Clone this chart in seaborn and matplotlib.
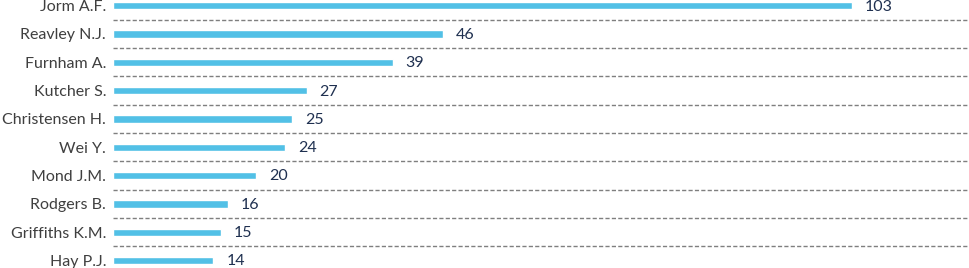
import matplotlib
matplotlib.use("Agg")
import matplotlib.pyplot as plt
import seaborn as sns
import pandas as pd

authors = ["Jorm A.F.", "Reavley N.J.", "Furnham A.", "Kutcher S.", "Christensen H.",
           "Wei Y.", "Mond J.M.", "Rodgers B.", "Griffiths K.M.", "Hay P.J."]
counts = [103, 46, 39, 27, 25, 24, 20, 16, 15, 14]

df = pd.DataFrame({"author": authors, "count": counts})

sns.set_style("white")
plt.rcParams['font.family'] = ['Lato', 'DejaVu Sans']

fig = plt.figure(figsize=(9.70, 2.68), dpi=100)
ax = fig.add_axes([113/970, 0, 1 - 113/970, 1])

sns.barplot(data=df, y="author", x="count", orient="h", color="#52C0E6",
            width=0.26, saturation=1, ax=ax)

for i, v in enumerate(counts):
    ax.text(v + 1.8, i + 0.03, str(v), va="center", ha="left", fontsize=11.5, color="#1F3050")

for i in range(len(authors) - 1):
    ax.axhline(i + 0.5, color="#7F7F7F", lw=1, ls=(0, (3, 1.6)))

ax.set_xlim(0, 119.5)
ax.set_ylim(9.26, -0.2)
for s in ax.spines.values():
    s.set_visible(False)
ax.set_xticks([])
ax.set_xlabel("")
ax.set_ylabel("")
ax.tick_params(axis="y", length=0, pad=5, labelsize=11.5, labelcolor="#3F3F3F")

fig.savefig("out.png", dpi=100)
